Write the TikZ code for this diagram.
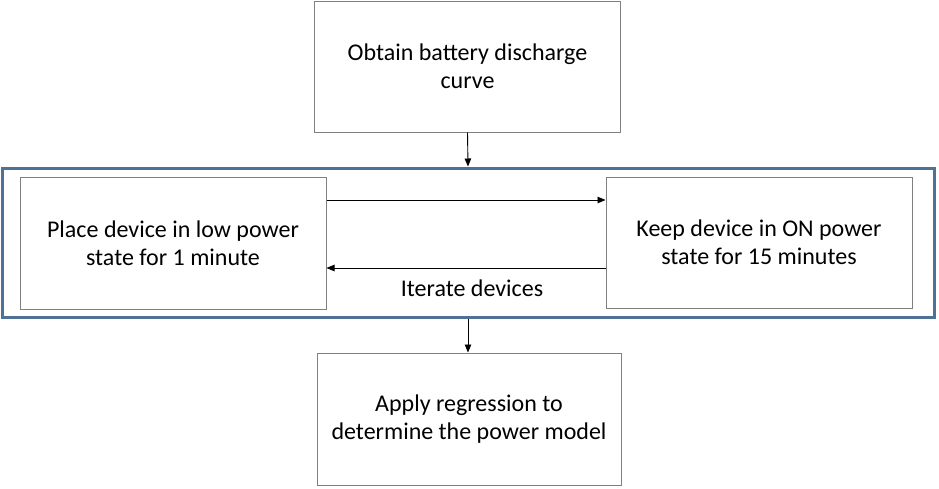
\documentclass[tikz,border=0pt]{standalone}
\usepackage{fontspec}
\setmainfont{Carlito}
\usetikzlibrary{arrows.meta}
\definecolor{frameblue}{RGB}{79,113,151}
\definecolor{boxgrey}{RGB}{128,128,128}
\tikzset{
  stepbox/.style={draw=boxgrey, line width=1pt, fill=white, inner sep=0pt, align=center,
    minimum width=306pt, minimum height=131pt, font=\fontsize{24}{28}\selectfont},
  conn/.style={draw=black, line width=0.9pt, -{Triangle[length=8pt,width=6.5pt]}},
  lbl/.style={inner sep=0pt, font=\fontsize{24}{28}\selectfont}
}
\begin{document}
\begin{tikzpicture}[x=1pt,y=-1pt]
\useasboundingbox (0,0) rectangle (939,488);
\node[draw=frameblue, line width=3pt, minimum width=932pt, minimum height=149pt, inner sep=0pt] (frame) at (468,242.5) {};
\node[stepbox] (top) at (467.5,66.5) {Obtain battery discharge\\curve};
\node[stepbox, minimum height=132pt] (left) at (173,243) {Place device in low power\\state for 1 minute};
\node[stepbox] (right) at (759,242.5) {Keep device in ON power\\state for 15 minutes};
\node[stepbox, minimum width=304pt, minimum height=132pt] (bottom) at (469,419) {Apply regression to\\determine the power model};
\node[lbl] (iter) at (472,288) {Iterate devices};
\draw[conn] (top.south) -- (frame.north);
\draw[conn] (frame.south) -- (frame.south |- bottom.north);
\draw[conn] ([yshift=43pt]left.east) -- ([yshift=43pt]left.east -| right.west);
\draw[conn] ([yshift=-25.5pt]right.west) -- ([yshift=-25.5pt]right.west -| left.east);
\end{tikzpicture}
\end{document}
